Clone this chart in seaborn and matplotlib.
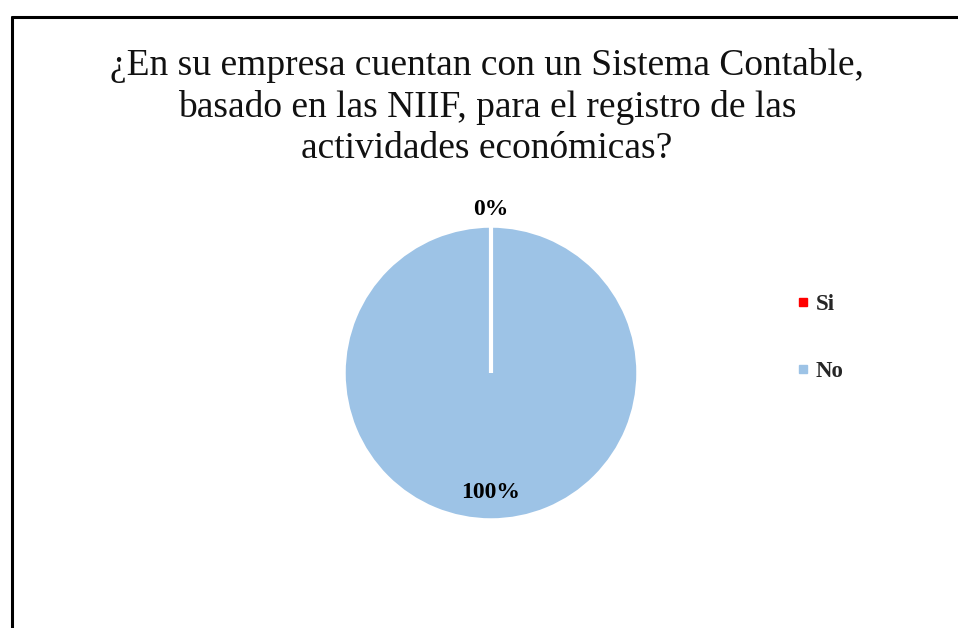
import matplotlib
matplotlib.use("Agg")
import matplotlib.pyplot as plt
from matplotlib.lines import Line2D
import numpy as np
import seaborn as sns

# Chart data
categories = ["Si", "No"]
percentages = [0, 100]
slice_colors = ["#FF0000", "#9DC3E6"]
title = "¿En su empresa cuentan con un Sistema Contable,\nbasado en las NIIF, para el registro de las\nactividades económicas?"

sns.set_theme(style="white")
plt.rcParams["font.family"] = ["Liberation Serif", "DejaVu Serif"]

W, H = 958, 628
fig = plt.figure(figsize=(W / 100, H / 100), dpi=100)

# Pie axes positioned so the pie sits centred at about (491, 373) px, radius 147 px
cx, cy, r = 491, 373, 147
ax = fig.add_axes([(cx - r) / W, 1 - (cy + r) / H, 2 * r / W, 2 * r / H])

wedges, texts, autotexts = ax.pie(
    percentages,
    colors=slice_colors,
    startangle=90,
    counterclock=False,
    autopct="%1.0f%%",
    pctdistance=0.81,
    wedgeprops=dict(edgecolor="white", linewidth=2.5),
    textprops=dict(fontsize=17, fontweight="bold", color="black"),
)
ax.set_xlim(-1, 1)
ax.set_ylim(-1, 1)
ax.set_aspect("equal")

# A full-circle wedge has no radial edge, so draw the slice border where
# the zero slice sits
for w, t, p in zip(wedges, autotexts, percentages):
    if p == 0:
        ang = np.deg2rad((w.theta1 + w.theta2) / 2)
        t.set_position((1.11 * np.cos(ang), 1.11 * np.sin(ang)))
        ax.plot([0, np.cos(ang)], [0, np.sin(ang)], color="white",
                linewidth=3, solid_capstyle="butt", zorder=5)

fig.text(487 / W, 1 - 107 / H, title, ha="center", va="center",
         fontsize=27, linespacing=1.27, color="#111111")

handles = [Line2D([], [], marker="s", linestyle="", markersize=5.5,
                  markerfacecolor=c, markeredgecolor=c) for c in slice_colors]
fig.legend(handles, categories, loc="center left",
           bbox_to_anchor=(773 / W, 1 - 338 / H), frameon=False,
           labelspacing=1.97, handletextpad=0.15, handlelength=0.8,
           prop=dict(family="Liberation Serif", weight="bold", size=16.5))

# Chart-area border (cropped: left and top edges visible)
fig.add_artist(Line2D([12 / W, 12 / W], [0, 1 - 17 / H], transform=fig.transFigure,
                      color="black", linewidth=2.2))
fig.add_artist(Line2D([12 / W, 1], [1 - 17 / H, 1 - 17 / H], transform=fig.transFigure,
                      color="black", linewidth=2.2))

fig.savefig("out.png", dpi=100, facecolor="white")
